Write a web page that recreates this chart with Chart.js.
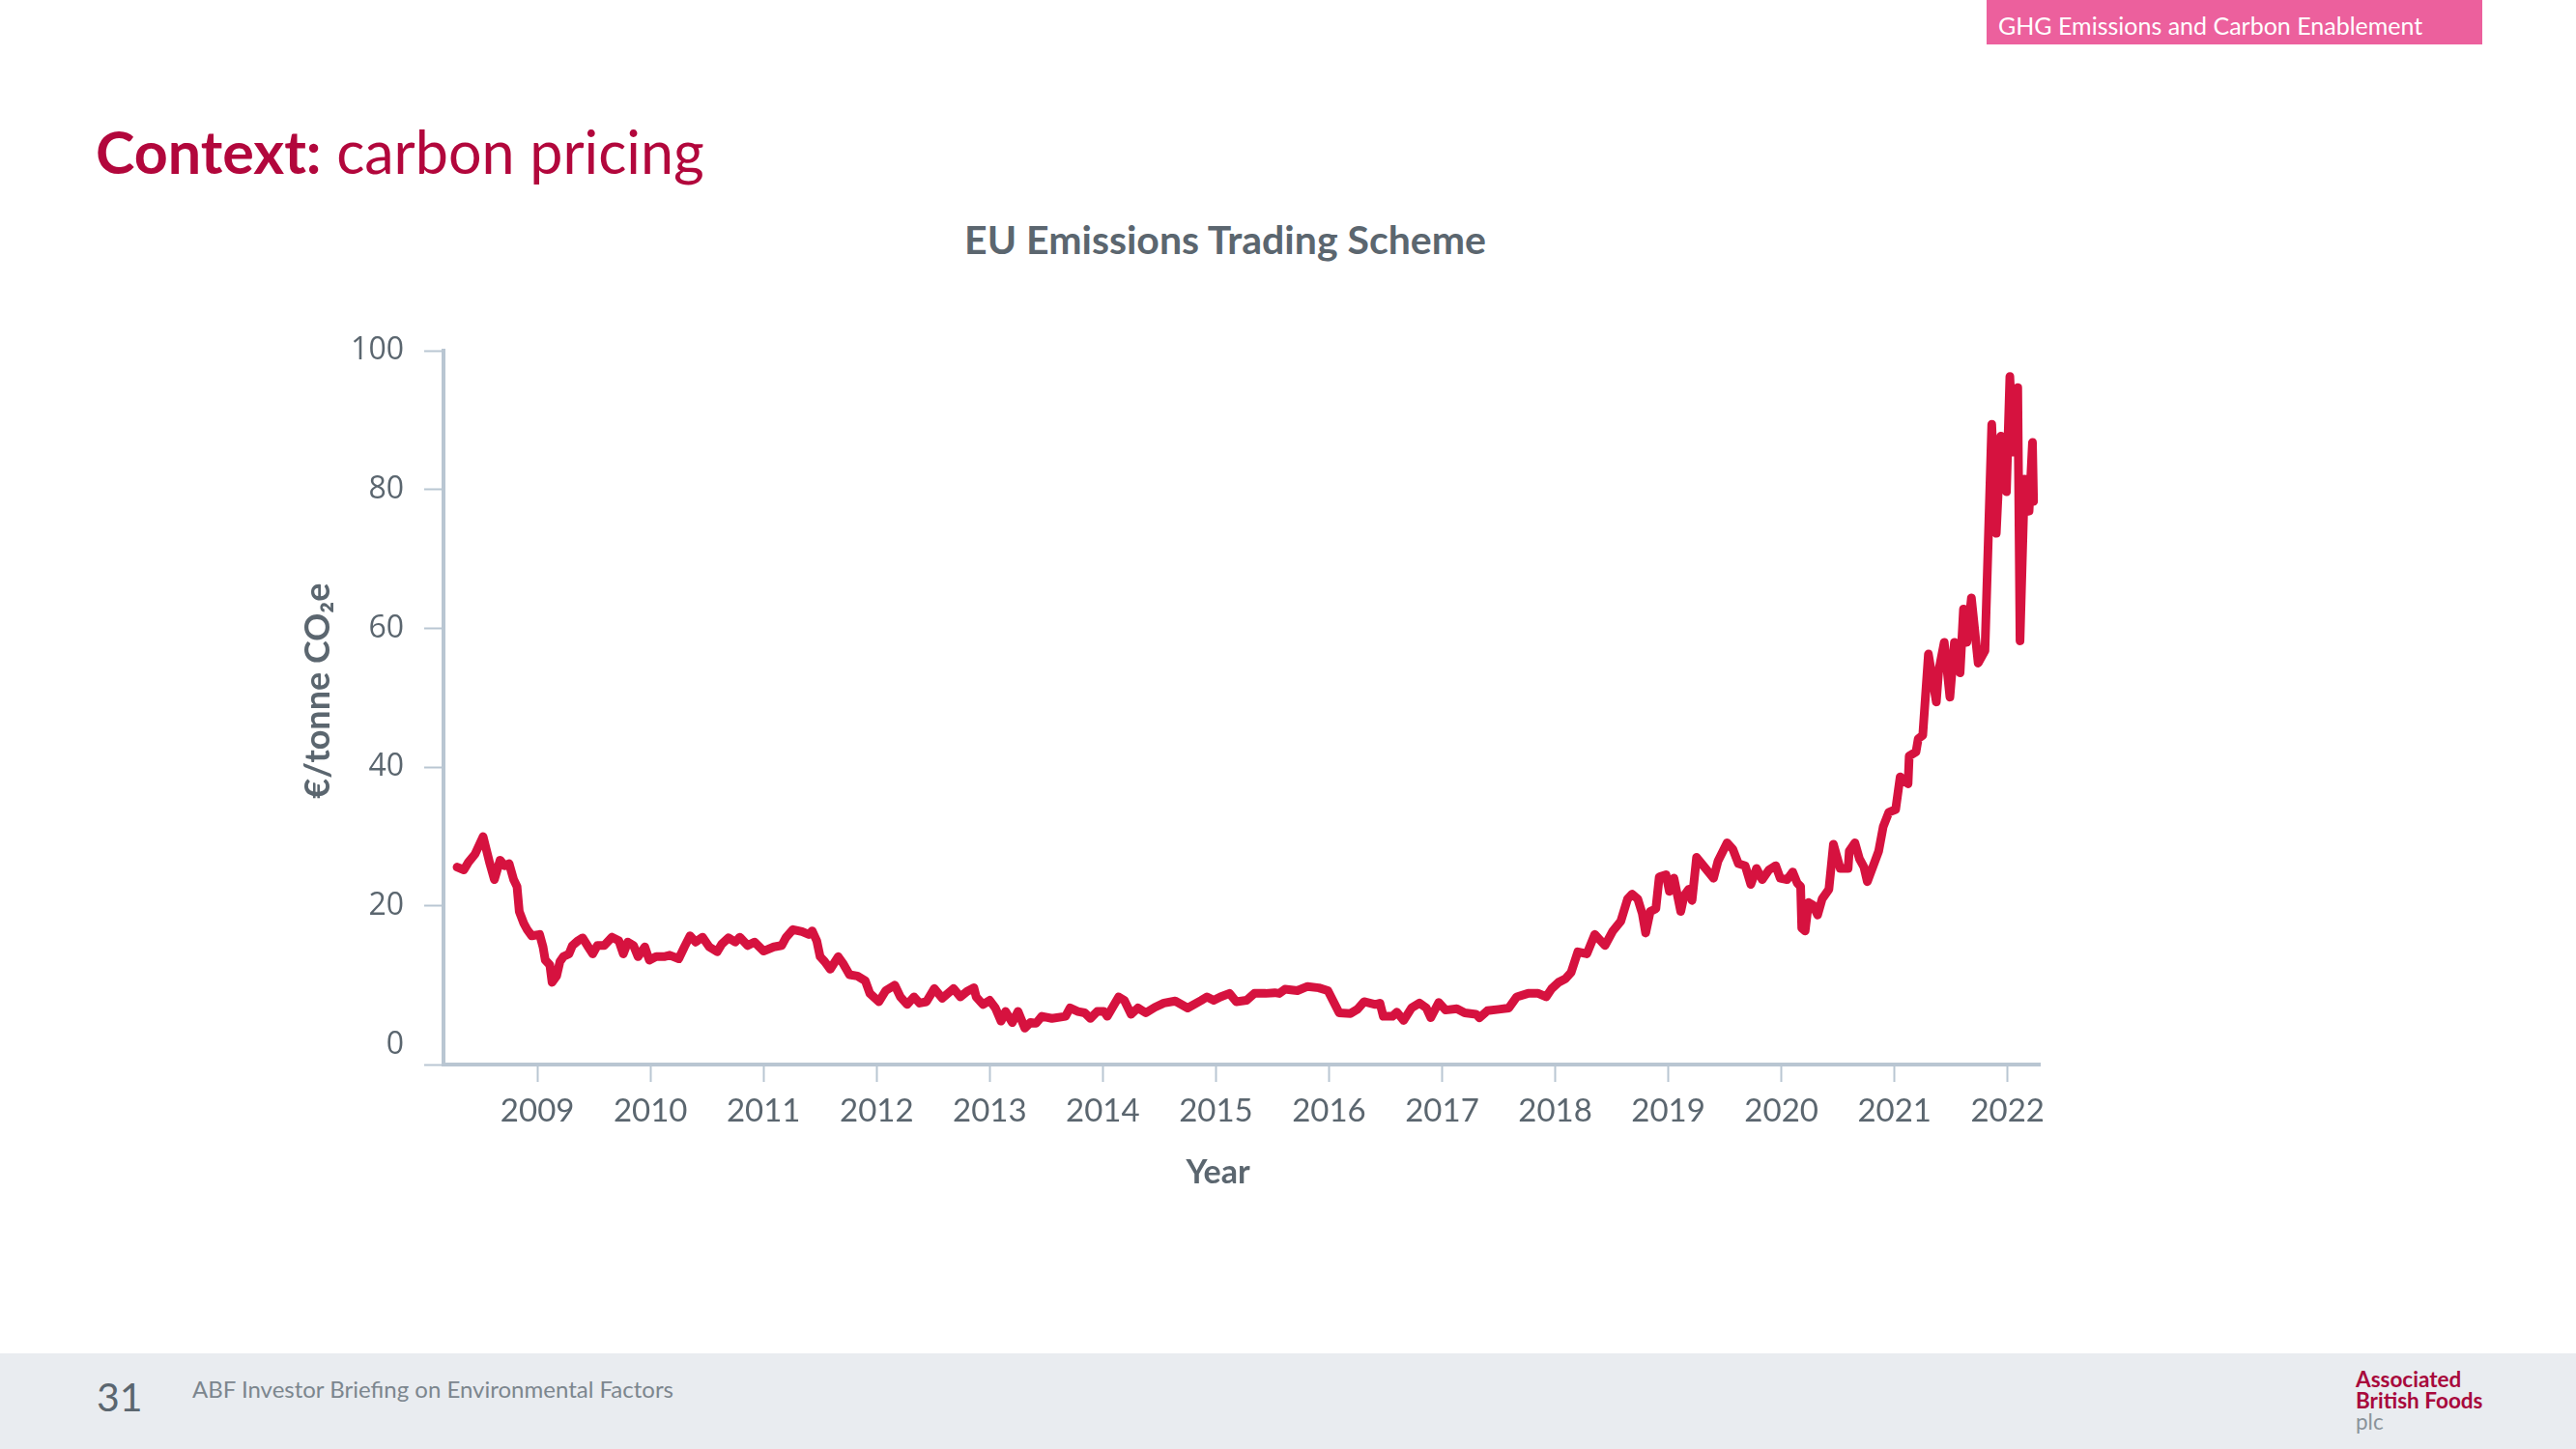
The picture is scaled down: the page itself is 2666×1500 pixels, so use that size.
<!DOCTYPE html>
<html>
<head>
<meta charset="utf-8">
<title>EU Emissions Trading Scheme</title>
<script src="https://cdn.jsdelivr.net/npm/chart.js@4/dist/chart.umd.min.js"></script>
<style>
  body { margin: 0; width: 2666px; height: 1500px; background: #fff; position: relative; overflow: hidden; font-family: Lato, sans-serif; }
  .tag { position: absolute; left: 2056px; top: 0; width: 513px; height: 46px; background: #ec609d; color: #fff; font-size: 25px; line-height: 52px; padding-left: 12px; box-sizing: border-box; }
  .heading { position: absolute; left: 99px; top: 126px; font-size: 61px; line-height: 1; color: #b2073c; white-space: nowrap; }
  .heading b { font-weight: 700; }
  .ctitle { position: absolute; left: 1268px; top: 227px; transform: translateX(-50%); font-size: 41px; font-weight: 700; color: #5b666f; white-space: nowrap; line-height: 1; }
  .footer { position: absolute; left: 0; top: 1401px; width: 2666px; height: 99px; background: #e9ecf0; }
  .pnum { position: absolute; left: 100px; top: 20px; font-size: 41px; color: #5b666f; line-height: 50px; }
  .ftxt { position: absolute; left: 199px; top: 22px; font-size: 24px; color: #7c868e; line-height: 30px; }
  .logo { position: absolute; left: 2438px; top: 16px; font-size: 22.5px; line-height: 22px; font-weight: 700; color: #a8093c; }
  .logo span { font-weight: 400; color: #8a939a; }
  #wrap { position: absolute; left: 308px; top: 323px; }
</style>
</head>
<body>
<div class="tag">GHG Emissions and Carbon Enablement</div>
<div class="heading"><b>Context:</b> carbon pricing</div>
<div class="ctitle">EU Emissions Trading Scheme</div>
<div id="wrap"><canvas id="etsChart" width="1819" height="911"></canvas></div>
<div class="footer">
  <div class="pnum">31</div>
  <div class="ftxt">ABF Investor Briefing on Environmental Factors</div>
  <div class="logo">Associated<br>British Foods<br><span>plc</span></div>
</div>
<script>
// EUA price (decimal year, EUR per tonne)
var dates = [
  2008.29, 2008.35, 2008.39, 2008.45, 2008.52, 2008.58, 2008.62, 2008.67, 2008.71, 2008.75,
  2008.79, 2008.82, 2008.84, 2008.88, 2008.91, 2008.95, 2009.02, 2009.05, 2009.07, 2009.11,
  2009.13, 2009.17, 2009.20, 2009.23, 2009.28, 2009.31, 2009.36, 2009.40, 2009.45, 2009.49,
  2009.53, 2009.59, 2009.66, 2009.72, 2009.76, 2009.80, 2009.85, 2009.89, 2009.95, 2009.99,
  2010.05, 2010.12, 2010.17, 2010.25, 2010.30, 2010.35, 2010.40, 2010.46, 2010.52, 2010.59,
  2010.63, 2010.69, 2010.75, 2010.79, 2010.86, 2010.92, 2011.00, 2011.09, 2011.16, 2011.20,
  2011.26, 2011.34, 2011.40, 2011.43, 2011.47, 2011.50, 2011.54, 2011.59, 2011.66, 2011.70,
  2011.76, 2011.83, 2011.90, 2011.94, 2012.02, 2012.08, 2012.16, 2012.21, 2012.27, 2012.33,
  2012.38, 2012.44, 2012.51, 2012.58, 2012.68, 2012.74, 2012.80, 2012.86, 2012.88, 2012.94,
  2013.00, 2013.05, 2013.10, 2013.14, 2013.20, 2013.25, 2013.31, 2013.36, 2013.41, 2013.46,
  2013.55, 2013.67, 2013.71, 2013.78, 2013.84, 2013.89, 2013.95, 2014.01, 2014.04, 2014.14,
  2014.19, 2014.25, 2014.31, 2014.38, 2014.46, 2014.54, 2014.64, 2014.75, 2014.87, 2014.92,
  2014.98, 2015.04, 2015.12, 2015.18, 2015.27, 2015.34, 2015.44, 2015.52, 2015.56, 2015.61,
  2015.72, 2015.81, 2015.91, 2015.99, 2016.04, 2016.09, 2016.19, 2016.25, 2016.31, 2016.41,
  2016.45, 2016.48, 2016.56, 2016.60, 2016.66, 2016.73, 2016.80, 2016.86, 2016.90, 2016.97,
  2017.03, 2017.13, 2017.20, 2017.30, 2017.33, 2017.40, 2017.50, 2017.59, 2017.66, 2017.76,
  2017.85, 2017.92, 2017.97, 2018.03, 2018.09, 2018.14, 2018.20, 2018.28, 2018.35, 2018.44,
  2018.51, 2018.58, 2018.64, 2018.68, 2018.73, 2018.77, 2018.80, 2018.84, 2018.89, 2018.92,
  2018.98, 2019.01, 2019.05, 2019.11, 2019.14, 2019.18, 2019.21, 2019.25, 2019.32, 2019.40,
  2019.44, 2019.52, 2019.57, 2019.62, 2019.68, 2019.73, 2019.78, 2019.83, 2019.89, 2019.95,
  2019.99, 2020.05, 2020.10, 2020.14, 2020.17, 2020.18, 2020.21, 2020.24, 2020.28, 2020.32,
  2020.36, 2020.42, 2020.46, 2020.52, 2020.59, 2020.60, 2020.65, 2020.69, 2020.73, 2020.76,
  2020.86, 2020.90, 2020.95, 2021.01, 2021.05, 2021.12, 2021.13, 2021.19, 2021.21, 2021.25,
  2021.30, 2021.37, 2021.39, 2021.44, 2021.49, 2021.53, 2021.58, 2021.61, 2021.64, 2021.68,
  2021.74, 2021.80, 2021.86, 2021.90, 2021.94, 2021.99, 2022.02, 2022.05, 2022.09, 2022.11,
  2022.15, 2022.19, 2022.22, 2022.23
];
var prices = [
  25.6, 25.2, 26.3, 27.5, 30.0, 26.1, 23.8, 26.6, 25.8, 26.1,
  23.8, 22.8, 19.2, 17.5, 16.6, 15.7, 15.9, 14.1, 12.2, 11.5,
  9.0, 9.9, 12.0, 12.7, 13.1, 14.3, 15.0, 15.4, 14.1, 13.1,
  14.3, 14.3, 15.5, 15.0, 13.1, 14.8, 14.3, 12.7, 14.1, 12.2,
  12.7, 12.7, 12.9, 12.4, 14.1, 15.7, 14.8, 15.5, 14.1, 13.4,
  14.5, 15.4, 14.8, 15.5, 14.3, 14.8, 13.5, 14.1, 14.3, 15.5,
  16.6, 16.3, 15.9, 16.4, 15.0, 12.7, 12.0, 10.9, 12.7, 11.8,
  10.1, 9.9, 9.2, 7.4, 6.2, 7.8, 8.6, 6.9, 5.8, 6.9,
  6.0, 6.2, 8.1, 6.7, 8.1, 6.9, 7.7, 8.2, 6.9, 5.8,
  6.4, 5.3, 3.4, 4.8, 3.2, 4.8, 2.4, 3.2, 3.1, 4.1,
  3.8, 4.1, 5.3, 4.8, 4.6, 3.8, 4.8, 4.8, 4.1, 6.9,
  6.4, 4.4, 5.3, 4.6, 5.4, 6.0, 6.3, 5.3, 6.4, 6.9,
  6.4, 6.9, 7.4, 6.2, 6.4, 7.4, 7.4, 7.5, 7.4, 8.0,
  7.8, 8.4, 8.2, 7.8, 6.2, 4.6, 4.5, 5.1, 6.2, 5.8,
  6.0, 4.1, 4.1, 4.7, 3.5, 5.3, 6.0, 5.3, 3.9, 6.1,
  5.0, 5.2, 4.6, 4.4, 3.9, 4.9, 5.1, 5.3, 6.9, 7.4,
  7.4, 6.9, 8.1, 9.0, 9.5, 10.4, 13.4, 13.1, 15.9, 14.3,
  16.4, 17.8, 21.0, 21.7, 21.0, 18.9, 16.1, 19.2, 19.6, 24.2,
  24.5, 22.1, 24.0, 19.2, 21.5, 22.4, 20.8, 27.0, 25.6, 24.0,
  26.5, 29.1, 28.2, 26.1, 25.8, 23.1, 25.4, 23.8, 25.2, 25.8,
  24.0, 23.8, 24.9, 23.3, 22.8, 16.8, 16.4, 20.5, 20.1, 18.7,
  21.0, 22.4, 28.9, 25.4, 25.4, 27.9, 29.1, 26.8, 25.6, 23.5,
  27.9, 31.4, 33.5, 33.9, 38.6, 37.6, 41.6, 42.2, 44.1, 44.6,
  56.3, 49.4, 53.8, 58.0, 50.1, 58.0, 53.6, 62.8, 58.0, 64.4,
  55.0, 56.8, 89.4, 73.7, 87.7, 79.7, 96.3, 85.4, 94.7, 58.2,
  81.5, 76.9, 86.8, 78.3
];
var yearTicks = [2009, 2010, 2011, 2012, 2013, 2014, 2015, 2016, 2017, 2018, 2019, 2020, 2021, 2022];
var priceTicks = [0, 20, 40, 60, 80, 100];

var axisColor = '#b9c6d2';
var textColor = '#5b666f';
var yMin = -2.85;

var points = dates.map(function (d, i) {
    return { x: d, y: prices[i] };
});

new Chart(document.getElementById('etsChart').getContext('2d'), {
    type: 'line',
    data: {
        datasets: [{
            data: points,
            borderColor: '#d6123f',
            borderWidth: 9,
            pointRadius: 0,
            tension: 0,
            borderJoinStyle: 'round',
            borderCapStyle: 'round'
        }]
    },
    options: {
        responsive: false,
        animation: false,
        layout: { padding: { top: 0, right: 0, left: 0, bottom: 0 } },
        plugins: {
            legend: { display: false },
            tooltip: { enabled: false }
        },
        scales: {
            x: {
                type: 'linear',
                min: 2008.17,
                max: 2022.29,
                afterBuildTicks: function (scale) {
                    scale.ticks = yearTicks.map(function (v) { return { value: v }; });
                },
                afterFit: function (scale) { scale.height = 132; },
                border: { color: axisColor, width: 4 },
                grid: { drawOnChartArea: false, color: axisColor, tickLength: 18, tickWidth: 2 },
                ticks: {
                    color: textColor,
                    padding: 11,
                    maxRotation: 0,
                    autoSkip: false,
                    font: { family: 'Lato', size: 33 },
                    callback: function (v) { return String(v); }
                },
                title: {
                    display: true,
                    text: 'Year      ',
                    color: textColor,
                    padding: 0,
                    font: { family: 'Lato', size: 34, weight: 'bold' }
                }
            },
            y: {
                min: yMin,
                max: 100,
                afterBuildTicks: function (scale) {
                    scale.ticks = [{ value: yMin }].concat(priceTicks.map(function (v) { return { value: v }; }));
                },
                afterFit: function (scale) { scale.width = 151; },
                border: { color: axisColor, width: 4 },
                grid: {
                    drawOnChartArea: false,
                    tickLength: 20,
                    tickWidth: 2,
                    color: function (ctx) {
                        return ctx.tick && ctx.tick.value === 0 ? 'rgba(0,0,0,0)' : axisColor;
                    }
                },
                ticks: {
                    color: textColor,
                    padding: 21,
                    autoSkip: false,
                    font: { family: 'Open Sans', size: 32 },
                    callback: function (v) { return v < 0 ? '' : String(v); }
                },
                title: {
                    display: true,
                    text: '    €/tonne CO₂e',
                    color: textColor,
                    padding: 0,
                    font: { family: 'Lato', size: 36, weight: 'bold' }
                }
            }
        }
    }
});
</script>
</body>
</html>
